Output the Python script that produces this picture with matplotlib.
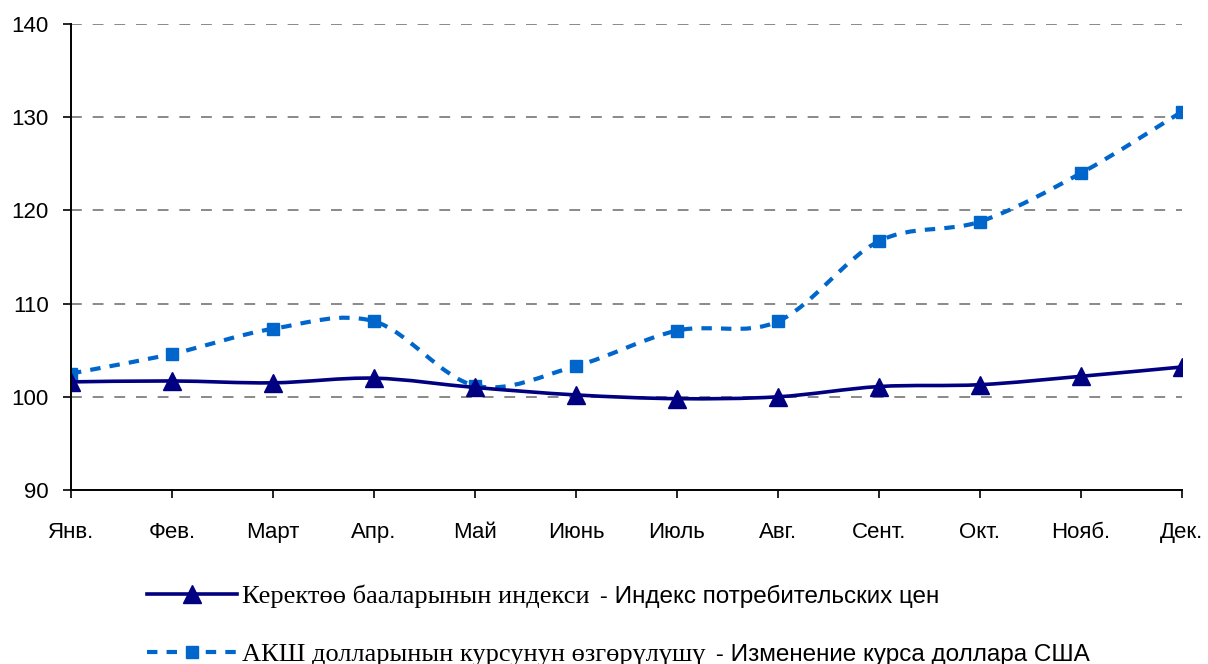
import numpy as np
import matplotlib
matplotlib.use("Agg")
import matplotlib.pyplot as plt
from matplotlib.path import Path
from matplotlib.patches import PathPatch
from matplotlib.lines import Line2D

months = ["Янв.", "Фев.", "Март", "Апр.", "Май", "Июнь", "Июль", "Авг.",
          "Сент.", "Окт.", "Нояб.", "Дек."]
cpi = [101.6, 101.7, 101.5, 102.0, 101.0, 100.2, 99.8, 100.0, 101.1, 101.3, 102.2, 103.2]
usd = [102.5, 104.6, 107.3, 108.1, 101.2, 103.3, 107.1, 108.1, 116.7, 118.8, 124.0, 130.6]

cpi_label = ("Керектөө бааларынын индекси", " - Индекс потребительских цен")
usd_label = ("АКШ долларынын курсунун өзгөрүлүшү", " - Изменение курса доллара США")

navy = "#000080"
blue = "#0066CC"
W, H = 1208, 664

plt.rcParams["font.family"] = ["Liberation Sans", "DejaVu Sans"]


def smooth_path(xs, ys):
    # Excel-like smoothed line: cubic bezier through the data points
    pts = np.column_stack([xs, ys]).astype(float)
    n = len(pts)
    verts = [pts[0]]
    codes = [Path.MOVETO]
    for i in range(n - 1):
        p0 = pts[i - 1] if i > 0 else pts[i]
        p1 = pts[i]
        p2 = pts[i + 1]
        p3 = pts[i + 2] if i + 2 < n else pts[i + 1]
        c1 = p1 + (p2 - p0) / 6
        c2 = p2 - (p3 - p1) / 6
        verts += [c1, c2, p2]
        codes += [Path.CURVE4] * 3
    return Path(verts, codes)


fig = plt.figure(figsize=(W / 100, H / 100), dpi=100)
ax = fig.add_axes([71 / W, 1 - 490 / H, (1182 - 71) / W, (490 - 24) / H])

x = np.arange(len(months))

ax.add_patch(PathPatch(smooth_path(x, usd), fill=False, edgecolor=blue,
                       lw=3, linestyle=(0, (2.5, 2.2)), zorder=3))
ax.plot(x, usd, linestyle="none", marker="s", ms=8.5, color=blue, zorder=4)

ax.add_patch(PathPatch(smooth_path(x, cpi), fill=False, edgecolor=navy,
                       lw=2.6, zorder=5))
ax.plot(x, cpi, linestyle="none", marker="^", ms=12.5, color=navy, zorder=6)

ax.set_xlim(0, len(months) - 1)
ax.set_ylim(90, 140)
ax.set_yticks(range(90, 141, 10))
ax.set_xticks(x)
ax.set_xticklabels(months)
ax.tick_params(axis="both", labelsize=16, length=6, width=1.2, color="black")
ax.tick_params(axis="x", pad=17)
ax.tick_params(axis="y", pad=10)

for s in ["top", "right"]:
    ax.spines[s].set_visible(False)
for s in ["left", "bottom"]:
    ax.spines[s].set_linewidth(1.4)
ax.spines["left"].set_zorder(7)

for yv in range(100, 141, 10):
    ax.axhline(yv, color="#808080", lw=1.3, linestyle=(0, (6, 6)), zorder=1)

# legend with mixed serif / sans text
handles = [
    Line2D([], [], color=navy, lw=2.6, marker="^", ms=12.5),
    Line2D([], [], color=blue, lw=3, linestyle=(0, (2.5, 2.2)), marker="s", ms=8.5),
]
leg = fig.legend(handles, [cpi_label[0], usd_label[0]], loc="upper left",
                 bbox_to_anchor=(147 / W, 1 - 585 / H), frameon=False,
                 prop={"family": ["Liberation Serif", "DejaVu Serif"], "size": 19},
                 handlelength=3.4, handletextpad=0.2, labelspacing=1.3,
                 borderaxespad=0, borderpad=0)
fig.canvas.draw()
renderer = fig.canvas.get_renderer()
for txt, tail in zip(leg.get_texts(), [cpi_label[1], usd_label[1]]):
    bb = txt.get_window_extent(renderer)
    fig.text(bb.x1 / W + 0.003, (bb.y0 + bb.y1) / 2 / H, tail, fontsize=17.5,
             va="center", ha="left")

fig.savefig("out.png", dpi=100)
